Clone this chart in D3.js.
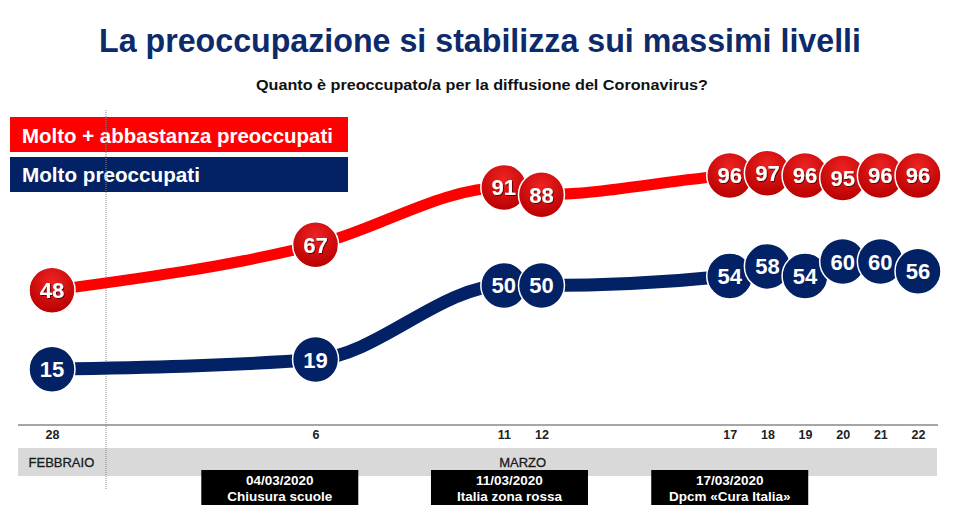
<!DOCTYPE html>
<html><head><meta charset="utf-8">
<script src="https://cdn.jsdelivr.net/npm/d3@7"></script>
<style>
html,body{margin:0;padding:0;background:#fff;}
svg{display:block;font-family:"Liberation Sans",Arial,sans-serif;}
</style></head>
<body><svg id="c" width="959" height="509"></svg>
<script>
const dayLabels = ["28","6","11","12","17","18","19","20","21","22"];
const dayIndex  = [0,7,12,13,18,19,20,21,22,23];
const molto_abbastanza = [48,67,91,88,96,97,96,95,96,96];
const molto = [15,19,50,50,54,58,54,60,60,56];
const months = [{label:"FEBBRAIO", day:0.25},{label:"MARZO", day:12.5}];
const events = [
  {day:6.05, date:"04/03/2020", text:"Chiusura scuole"},
  {day:12.15, date:"11/03/2020", text:"Italia zona rossa"},
  {day:18, date:"17/03/2020", text:"Dpcm \u00abCura Italia\u00bb"}
];
const legendLabels = ["Molto + abbastanza preoccupati","Molto preoccupati"];

const RED="#ff0000", NAVY="#032266";
const svg = d3.select("#c");
const x = d3.scaleLinear().domain([0,23]).range([52,918]);
const y = d3.scaleLinear().domain([0,100]).range([405,166]);

const defs = svg.append("defs");
const g = defs.append("radialGradient").attr("id","rg").attr("cx","50%").attr("cy","30%").attr("r","70%");
g.append("stop").attr("offset","0%").attr("stop-color","#ee2222");
g.append("stop").attr("offset","100%").attr("stop-color","#b80000");
const sh = defs.append("filter").attr("id","ts").attr("x","-20%").attr("y","-20%").attr("width","140%").attr("height","140%");
sh.append("feDropShadow").attr("dx",1).attr("dy",1).attr("stdDeviation",0.6).attr("flood-color","#400").attr("flood-opacity",0.8);

// title
svg.append("text").attr("x",480).attr("y",52).attr("text-anchor","middle")
  .attr("font-size",33).attr("font-weight","bold").attr("fill","#0d2a6a")
  .attr("font-family","'Liberation Sans Narrow','Arial Narrow','Liberation Sans',Arial,sans-serif")
  .attr("textLength",762).attr("lengthAdjust","spacingAndGlyphs")
  .text("La preoccupazione si stabilizza sui massimi livelli");
svg.append("text").attr("x",482).attr("y",90).attr("text-anchor","middle")
  .attr("font-size",14.5).attr("font-weight","bold").attr("fill","#111")
  .attr("textLength",452).attr("lengthAdjust","spacingAndGlyphs")
  .text("Quanto è preoccupato/a per la diffusione del Coronavirus?");

// legend
const legColors=[RED,NAVY];
const legLens=[311,178];
legendLabels.forEach((l,i)=>{
  svg.append("rect").attr("x",10).attr("y",117+i*40).attr("width",338).attr("height",35).attr("fill",legColors[i]);
  svg.append("text").attr("x",22).attr("y",143+i*39).attr("font-size",20.5).attr("font-weight","bold").attr("fill","#fff")
    .attr("textLength",legLens[i]).attr("lengthAdjust","spacingAndGlyphs").text(l);
});

// band and axis
svg.append("rect").attr("x",18).attr("y",448).attr("width",919).attr("height",28).attr("fill","#d9d9d9");
svg.append("line").attr("x1",18).attr("x2",938).attr("y1",425).attr("y2",425).attr("stroke","#a6a6a6").attr("stroke-width",2);
svg.append("line").attr("x1",106).attr("x2",106).attr("y1",110).attr("y2",490).attr("stroke","#888").attr("stroke-width",1).attr("stroke-dasharray","1,1");

const axis = d3.axisBottom(x).tickValues(dayIndex).tickFormat((d,i)=>dayLabels[i]).tickSize(0).tickPadding(0);
const ax = svg.append("g").attr("transform","translate(0,430)").call(axis);
ax.select(".domain").remove();
ax.selectAll("text").attr("font-size",12.5).attr("font-weight","bold").attr("fill","#222").attr("dy","0.75em").attr("font-family","'Liberation Sans',Arial,sans-serif");

months.forEach(m=>{
  svg.append("text").attr("x",x(m.day)).attr("y",467).attr("text-anchor","middle").attr("font-size",13).attr("fill","#1a1a1a")
    .attr("stroke","#1a1a1a").attr("stroke-width",0.3).text(m.label);
});

events.forEach(e=>{
  const cx=x(e.day);
  svg.append("rect").attr("x",cx-78.5).attr("y",470).attr("width",157).attr("height",35).attr("fill","#000");
  svg.append("text").attr("x",cx).attr("y",485).attr("text-anchor","middle").attr("font-size",13.5).attr("font-weight","bold").attr("fill","#fff").text(e.date);
  svg.append("text").attr("x",cx).attr("y",501).attr("text-anchor","middle").attr("font-size",13.5).attr("font-weight","bold").attr("fill","#fff").text(e.text);
});

// lines
const line = d3.line().x(d=>x(d[0])).y(d=>y(d[1])).curve(d3.curveMonotoneX);
const s1 = dayIndex.map((d,i)=>[d,molto_abbastanza[i]]);
const s2 = dayIndex.map((d,i)=>[d,molto[i]]);
svg.append("path").attr("d",line(s1)).attr("fill","none").attr("stroke",RED).attr("stroke-width",11);
svg.append("path").attr("d",line(s2)).attr("fill","none").attr("stroke",NAVY).attr("stroke-width",13);

function dots(data, fill, shadow){
  const gg = svg.append("g");
  data.forEach(d=>{
    gg.append("circle").attr("cx",x(d[0])).attr("cy",y(d[1])).attr("r",23).attr("fill",fill).attr("stroke","#fff").attr("stroke-width",1.5);
    const t = gg.append("text").attr("x",x(d[0])).attr("y",y(d[1])).attr("dy","0.36em").attr("text-anchor","middle")
      .attr("font-size",22).attr("font-weight","bold").attr("fill","#fff").text(d[1]);
    if(shadow) t.attr("filter","url(#ts)");
  });
}
dots(s1,"url(#rg)",true);
dots(s2,NAVY,false);
</script></body></html>
